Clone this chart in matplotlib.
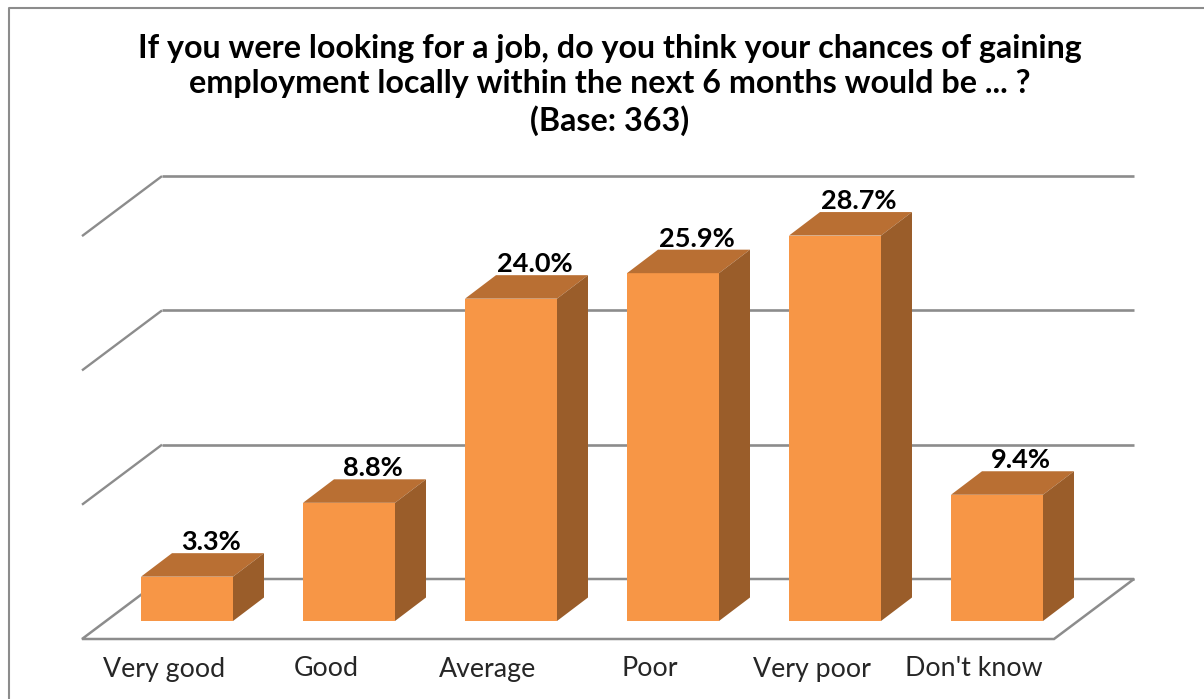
import matplotlib
matplotlib.use("Agg")
import matplotlib.pyplot as plt
from matplotlib.patches import Polygon

categories = ["Very good", "Good", "Average", "Poor", "Very poor", "Don't know"]
values = [3.3, 8.8, 24.0, 25.9, 28.7, 9.4]
value_labels = ["3.3%", "8.8%", "24.0%", "25.9%", "28.7%", "9.4%"]
grid_values = [0, 10, 20, 30]
title = ("If you were looking for a job, do you think your chances of gaining\n"
         "employment locally within the next 6 months would be ... ?\n"
         "(Base: 363)")

W, H = 1204, 699
PX_X = 162.0     # px per category
PX_Y = 13.43     # px per value unit
X0, Y0 = 187.0, 621.0
bar_w = 92 / PX_X
dx, dy = 31 / PX_X, 23.5 / PX_Y            # bar depth
floor_dx, floor_dy = 80 / PX_X, 60 / PX_Y  # floor depth
floor_front_y = -18 / PX_Y
floor_left = (82 - X0) / PX_X
floor_right = (1054 - X0) / PX_X

FRONT = "#F79646"
TOP = "#B96F33"
SIDE = "#9A5D2A"
GRID = "#8C8C8C"

fig = plt.figure(figsize=(W / 100, H / 100), dpi=100, facecolor="white")
ax = fig.add_axes([0, 0, 1, 1])
ax.set_xlim(-X0 / PX_X, (W - X0) / PX_X)
ax.set_ylim((Y0 - H) / PX_Y, Y0 / PX_Y)
ax.axis("off")

# outer chart-area border
fig.add_artist(plt.Line2D([8.5 / W, 8.5 / W, 1], [0, 1 - 8 / H, 1 - 8 / H],
                          color="#8C8C8C", lw=1.5, transform=fig.transFigure))

# back wall gridlines + left wall diagonals
for g in grid_values:
    yb = floor_front_y + floor_dy + g * 134.3 / 10 / PX_Y
    yf = floor_front_y + g * 134.3 / 10 / PX_Y
    if g > 0:
        ax.plot([floor_left, floor_left + floor_dx], [yf, yb], color=GRID, lw=1.7,
                solid_capstyle="butt", zorder=1)
    ax.plot([floor_left + floor_dx, floor_right + floor_dx], [yb, yb], color=GRID, lw=1.9,
            solid_capstyle="butt", zorder=1)

# floor
ax.add_patch(Polygon([(floor_left, floor_front_y), (floor_left + floor_dx, floor_front_y + floor_dy),
                      (floor_right + floor_dx, floor_front_y + floor_dy), (floor_right, floor_front_y)],
                     closed=True, facecolor="white", edgecolor=GRID, lw=1.8, zorder=1.5))

# bars
for i, (v, lab, cat) in enumerate(zip(values, value_labels, categories)):
    l, r = i - bar_w / 2, i + bar_w / 2
    ax.bar(i, v, width=bar_w, color=FRONT, linewidth=0, zorder=3)
    ax.add_patch(Polygon([(l, v), (r, v), (r + dx, v + dy), (l + dx, v + dy)],
                         closed=True, facecolor=TOP, edgecolor="none", zorder=3))
    ax.add_patch(Polygon([(r, 0), (r + dx, dy), (r + dx, v + dy), (r, v)],
                         closed=True, facecolor=SIDE, edgecolor="none", zorder=3))
    ax.text(i + 24 / PX_X, v + dy - 1 / PX_Y, lab, ha="center", va="bottom",
            fontsize=19.5, fontweight="bold", family="Lato", color="black", zorder=4)
    ax.text(i - 23 / PX_X, -48 / PX_Y, cat, ha="center", va="center",
            fontsize=19.3, family="Lato", color="#262626", zorder=4)

fig.text(610 / W, 1 - 85 / H, title, ha="center", va="center", fontsize=23.2,
         fontweight="bold", family="Lato", color="black", linespacing=1.25)

fig.savefig("out.png", dpi=100)
